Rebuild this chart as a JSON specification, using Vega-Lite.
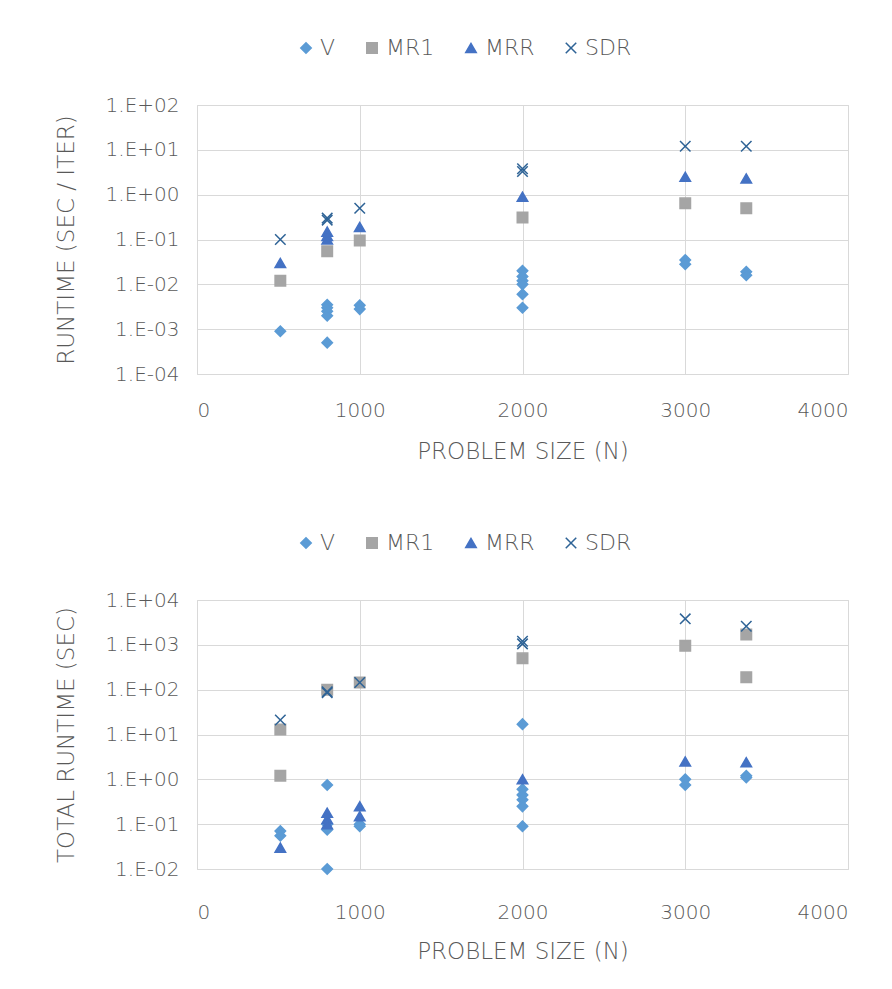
{
  "$schema": "https://vega.github.io/schema/vega-lite/v6.json",
  "background": "white",
  "padding": {"left": 54, "top": 36, "right": 30, "bottom": 10},
  "config": {
    "font": "DejaVu Sans",
    "view": {"stroke": "#D9D9D9", "strokeWidth": 1},
    "axis": {
      "labelFont": "DejaVu Sans", "labelFontSize": 20, "labelColor": "#595959", "labelFontWeight": 200,
      "titleFont": "DejaVu Sans", "titleFontSize": 23, "titleColor": "#595959", "titleFontWeight": 200,
      "gridColor": "#D9D9D9", "domain": false, "ticks": false
    },
    "legend": {"labelFont": "DejaVu Sans", "labelFontSize": 22, "labelColor": "#595959", "labelFontWeight": 200},
    "concat": {"spacing": 67}
  },
  "datasets": {
    "top": [
      {"n": 512, "series": "V", "value": 0.0009},
      {"n": 800, "series": "V", "value": 0.0035},
      {"n": 800, "series": "V", "value": 0.003},
      {"n": 800, "series": "V", "value": 0.0025},
      {"n": 800, "series": "V", "value": 0.002},
      {"n": 800, "series": "V", "value": 0.0005},
      {"n": 1000, "series": "V", "value": 0.0034},
      {"n": 1000, "series": "V", "value": 0.0028},
      {"n": 2000, "series": "V", "value": 0.02},
      {"n": 2000, "series": "V", "value": 0.015},
      {"n": 2000, "series": "V", "value": 0.012},
      {"n": 2000, "series": "V", "value": 0.01},
      {"n": 2000, "series": "V", "value": 0.006},
      {"n": 2000, "series": "V", "value": 0.003},
      {"n": 3000, "series": "V", "value": 0.035},
      {"n": 3000, "series": "V", "value": 0.028},
      {"n": 3375, "series": "V", "value": 0.019},
      {"n": 3375, "series": "V", "value": 0.016},
      {"n": 512, "series": "MR1", "value": 0.012},
      {"n": 800, "series": "MR1", "value": 0.055},
      {"n": 1000, "series": "MR1", "value": 0.095},
      {"n": 2000, "series": "MR1", "value": 0.31},
      {"n": 3000, "series": "MR1", "value": 0.64},
      {"n": 3375, "series": "MR1", "value": 0.5},
      {"n": 512, "series": "MRR", "value": 0.03},
      {"n": 800, "series": "MRR", "value": 0.15},
      {"n": 800, "series": "MRR", "value": 0.12},
      {"n": 800, "series": "MRR", "value": 0.1},
      {"n": 1000, "series": "MRR", "value": 0.19},
      {"n": 2000, "series": "MRR", "value": 0.9},
      {"n": 3000, "series": "MRR", "value": 2.5},
      {"n": 3375, "series": "MRR", "value": 2.3},
      {"n": 512, "series": "SDR", "value": 0.1},
      {"n": 800, "series": "SDR", "value": 0.3},
      {"n": 800, "series": "SDR", "value": 0.27},
      {"n": 1000, "series": "SDR", "value": 0.5},
      {"n": 2000, "series": "SDR", "value": 3.8},
      {"n": 2000, "series": "SDR", "value": 3.3},
      {"n": 3000, "series": "SDR", "value": 12},
      {"n": 3375, "series": "SDR", "value": 12}
    ],
    "bottom": [
      {"n": 512, "series": "V", "value": 0.07},
      {"n": 512, "series": "V", "value": 0.055},
      {"n": 800, "series": "V", "value": 0.75},
      {"n": 800, "series": "V", "value": 0.1},
      {"n": 800, "series": "V", "value": 0.075},
      {"n": 800, "series": "V", "value": 0.01},
      {"n": 1000, "series": "V", "value": 0.1},
      {"n": 1000, "series": "V", "value": 0.09},
      {"n": 2000, "series": "V", "value": 17},
      {"n": 2000, "series": "V", "value": 0.6},
      {"n": 2000, "series": "V", "value": 0.45},
      {"n": 2000, "series": "V", "value": 0.35},
      {"n": 2000, "series": "V", "value": 0.25},
      {"n": 2000, "series": "V", "value": 0.09},
      {"n": 3000, "series": "V", "value": 1.0},
      {"n": 3000, "series": "V", "value": 0.75},
      {"n": 3375, "series": "V", "value": 1.2},
      {"n": 3375, "series": "V", "value": 1.1},
      {"n": 512, "series": "MR1", "value": 13},
      {"n": 512, "series": "MR1", "value": 1.2},
      {"n": 800, "series": "MR1", "value": 100},
      {"n": 1000, "series": "MR1", "value": 145},
      {"n": 2000, "series": "MR1", "value": 500},
      {"n": 3000, "series": "MR1", "value": 950},
      {"n": 3375, "series": "MR1", "value": 1700},
      {"n": 3375, "series": "MR1", "value": 190},
      {"n": 512, "series": "MRR", "value": 0.03},
      {"n": 800, "series": "MRR", "value": 0.18},
      {"n": 800, "series": "MRR", "value": 0.13},
      {"n": 800, "series": "MRR", "value": 0.1},
      {"n": 1000, "series": "MRR", "value": 0.25},
      {"n": 1000, "series": "MRR", "value": 0.15},
      {"n": 2000, "series": "MRR", "value": 1.0},
      {"n": 3000, "series": "MRR", "value": 2.5},
      {"n": 3375, "series": "MRR", "value": 2.4},
      {"n": 512, "series": "SDR", "value": 21},
      {"n": 800, "series": "SDR", "value": 90},
      {"n": 800, "series": "SDR", "value": 85},
      {"n": 1000, "series": "SDR", "value": 145},
      {"n": 2000, "series": "SDR", "value": 1200},
      {"n": 2000, "series": "SDR", "value": 1050},
      {"n": 3000, "series": "SDR", "value": 3800},
      {"n": 3375, "series": "SDR", "value": 2600}
    ]
  },
  "vconcat": [
    {
      "width": 651,
      "height": 269,
      "data": {"name": "top"},
      "mark": {"type": "point", "filled": true, "size": 110, "strokeWidth": 1.5, "opacity": 1},
      "encoding": {
        "x": {"field": "n", "type": "quantitative", "title": "PROBLEM SIZE (N)",
          "scale": {"domain": [0, 4000], "nice": false},
          "axis": {"values": [0, 1000, 2000, 3000, 4000], "format": "d", "labelPadding": 26, "titlePadding": 20, "grid": true}},
        "y": {"field": "value", "type": "quantitative", "title": "RUNTIME (SEC / ITER)",
          "scale": {"type": "log", "domain": [0.0001, 100], "nice": false},
          "axis": {"values": [0.0001, 0.001, 0.01, 0.1, 1, 10, 100], "labelPadding": 18, "titlePadding": 27,
            "labelExpr": "'1.E' + (round(log(datum.value)/LN10) < 0 ? '-' : '+') + (abs(round(log(datum.value)/LN10)) < 10 ? '0' : '') + abs(round(log(datum.value)/LN10))"}},
        "color": {"field": "series", "type": "nominal", "title": null,
          "scale": {"domain": ["V", "MR1", "MRR", "SDR"], "range": ["#5B9BD5", "#A5A5A5", "#4472C4", "#2E6396"]},
          "legend": {"orient": "none", "legendX": 98, "legendY": -68, "direction": "horizontal", "symbolSize": 110, "columnPadding": 25, "labelOffset": 3}},
        "stroke": {"field": "series", "type": "nominal", "title": null,
          "scale": {"domain": ["V", "MR1", "MRR", "SDR"], "range": ["#5B9BD5", "#A5A5A5", "#4472C4", "#2E6396"]},
          "legend": {"orient": "none", "legendX": 98, "legendY": -68, "direction": "horizontal", "symbolSize": 110, "columnPadding": 25, "labelOffset": 3}},
        "shape": {"field": "series", "type": "nominal", "title": null,
          "scale": {"domain": ["V", "MR1", "MRR", "SDR"], "range": ["diamond", "square", "triangle-up", "M-1,-1L1,1M1,-1L-1,1"]},
          "legend": {"orient": "none", "legendX": 98, "legendY": -68, "direction": "horizontal", "symbolSize": 110, "columnPadding": 25, "labelOffset": 3}}
      }
    },
    {
      "width": 651,
      "height": 269,
      "data": {"name": "bottom"},
      "mark": {"type": "point", "filled": true, "size": 110, "strokeWidth": 1.5, "opacity": 1},
      "encoding": {
        "x": {"field": "n", "type": "quantitative", "title": "PROBLEM SIZE (N)",
          "scale": {"domain": [0, 4000], "nice": false},
          "axis": {"values": [0, 1000, 2000, 3000, 4000], "format": "d", "labelPadding": 33, "titlePadding": 18, "grid": true}},
        "y": {"field": "value", "type": "quantitative", "title": "TOTAL RUNTIME (SEC)",
          "scale": {"type": "log", "domain": [0.01, 10000], "nice": false},
          "axis": {"values": [0.01, 0.1, 1, 10, 100, 1000, 10000], "labelPadding": 18, "titlePadding": 27,
            "labelExpr": "'1.E' + (round(log(datum.value)/LN10) < 0 ? '-' : '+') + (abs(round(log(datum.value)/LN10)) < 10 ? '0' : '') + abs(round(log(datum.value)/LN10))"}},
        "color": {"field": "series", "type": "nominal", "title": null,
          "scale": {"domain": ["V", "MR1", "MRR", "SDR"], "range": ["#5B9BD5", "#A5A5A5", "#4472C4", "#2E6396"]},
          "legend": {"orient": "none", "legendX": 98, "legendY": -68, "direction": "horizontal", "symbolSize": 110, "columnPadding": 25, "labelOffset": 3}},
        "stroke": {"field": "series", "type": "nominal", "title": null,
          "scale": {"domain": ["V", "MR1", "MRR", "SDR"], "range": ["#5B9BD5", "#A5A5A5", "#4472C4", "#2E6396"]},
          "legend": {"orient": "none", "legendX": 98, "legendY": -68, "direction": "horizontal", "symbolSize": 110, "columnPadding": 25, "labelOffset": 3}},
        "shape": {"field": "series", "type": "nominal", "title": null,
          "scale": {"domain": ["V", "MR1", "MRR", "SDR"], "range": ["diamond", "square", "triangle-up", "M-1,-1L1,1M1,-1L-1,1"]},
          "legend": {"orient": "none", "legendX": 98, "legendY": -68, "direction": "horizontal", "symbolSize": 110, "columnPadding": 25, "labelOffset": 3}}
      }
    }
  ],
  "resolve": {
    "scale": {"color": "independent", "stroke": "independent", "shape": "independent"},
    "legend": {"color": "independent", "stroke": "independent", "shape": "independent"}
  }
}
